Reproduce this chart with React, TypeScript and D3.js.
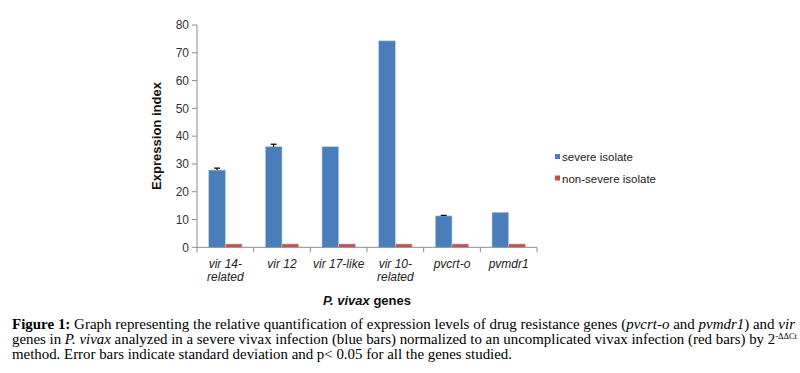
import React from "react";
import * as d3 from "d3";

const categories: string[][] = [
  ["vir 14-", "related"],
  ["vir 12"],
  ["vir 17-like"],
  ["vir 10-", "related"],
  ["pvcrt-o"],
  ["pvmdr1"],
];
const severe = [27.8, 36.2, 36.2, 74.3, 11.3, 12.6];
const severeErr = [0.7, 0.9, 0, 0, 0.2, 0];
const nonSevere = [1.2, 1.2, 1.2, 1.2, 1.2, 1.2];
const yTicks = [0, 10, 20, 30, 40, 50, 60, 70, 80];
const seriesNames = ["severe isolate", "non-severe isolate"];
const colors = ["#4A7EBB", "#C0504D"];

export default function App() {
  const W = 800, H = 373;
  const x0 = 197, x1 = 537;
  const y = d3.scaleLinear().domain([0, 80]).range([247.3, 25]);
  const xb = d3.scaleBand<number>().domain(d3.range(categories.length)).range([x0, x1]);
  const inner = d3.scaleBand<number>().domain([0, 1]).range([0, xb.bandwidth()]).paddingOuter(0.7).paddingInner(0);
  const sans = "Liberation Sans";
  const serif = "Liberation Serif";
  return (
    <svg width={W} height={H} style={{ position: "absolute", left: 0, top: 0, background: "#fff" }}>
      <line x1={x0} x2={x0} y1={y(80)} y2={y(0)} stroke="#8c8c8c" strokeWidth={1} />
      {yTicks.map((t) => (
        <g key={t}>
          <line x1={x0 - 5} x2={x0} y1={y(t)} y2={y(t)} stroke="#8c8c8c" />
          <text x={189} y={y(t)} dy="0.35em" textAnchor="end" style={{ fontFamily: sans }} fontSize={12} fill="#333">
            {t}
          </text>
        </g>
      ))}
      <text
        transform={`translate(157,136) rotate(-90)`}
        textAnchor="middle"
        dy="0.35em"
        style={{ fontFamily: sans }}
        fontSize={12.5}
        fontWeight="bold"
        fill="#111"
        textLength={108}
        lengthAdjust="spacingAndGlyphs"
      >
        Expression index
      </text>
      {categories.map((c, i) => {
        const bx = xb(i)!;
        const cx = bx + xb.bandwidth() / 2;
        const sx = bx + inner(0)!;
        const rx = bx + inner(1)!;
        const bw = inner.bandwidth();
        return (
          <g key={i}>
            <rect x={sx} y={y(severe[i])} width={bw} height={y(0) - y(severe[i])} fill={colors[0]} stroke="#b9cde5" strokeWidth={0.6} />
            <rect x={rx} y={y(nonSevere[i])} width={bw} height={y(0) - y(nonSevere[i])} fill={colors[1]} stroke="#e6b9b8" strokeWidth={0.6} />
            {severeErr[i] > 0 && (
              <g stroke="#000" strokeWidth={1.2}>
                <line x1={sx + bw / 2} x2={sx + bw / 2} y1={y(severe[i])} y2={y(severe[i] + severeErr[i])} />
                <line x1={sx + bw / 2 - 3} x2={sx + bw / 2 + 3} y1={y(severe[i] + severeErr[i])} y2={y(severe[i] + severeErr[i])} />
              </g>
            )}
            {c.map((line, j) => (
              <text key={j} x={cx} y={268 + j * 13} textAnchor="middle" style={{ fontFamily: sans }} fontSize={12} fontStyle="italic" fill="#222">
                {line}
              </text>
            ))}
          </g>
        );
      })}
      <line x1={x0} x2={x1} y1={y(0)} y2={y(0)} stroke="#8c8c8c" />
      {d3.range(categories.length + 1).map((k) => {
        const tx = x0 + k * xb.bandwidth();
        return <line key={k} x1={tx} x2={tx} y1={y(0)} y2={y(0) + 5} stroke="#8c8c8c" />;
      })}
      <text x={(x0 + x1) / 2} y={305} textAnchor="middle" style={{ fontFamily: sans }} fontSize={13} fontWeight="bold" fill="#111">
        <tspan fontStyle="italic">P. vivax</tspan> genes
      </text>
      {seriesNames.map((n, i) => (
        <g key={n}>
          <rect x={555} y={154 + i * 21.5} width={5} height={5} fill={colors[i]} />
          <text x={562} y={161 + i * 21.5} style={{ fontFamily: sans }} fontSize={11.5} fill="#222">
            {n}
          </text>
        </g>
      ))}
      <g style={{ fontFamily: serif }} fontSize={14} fill="#000">
        <text x={12} y={329} textLength={783} lengthAdjust="spacingAndGlyphs">
          <tspan fontWeight="bold">Figure 1:</tspan> Graph representing the relative quantification of expression levels of drug resistance genes (
          <tspan fontStyle="italic">pvcrt-o</tspan> and <tspan fontStyle="italic">pvmdr1</tspan>) and <tspan fontStyle="italic">vir</tspan>
        </text>
        <text x={12} y={344} textLength={785} lengthAdjust="spacingAndGlyphs">
          genes in <tspan fontStyle="italic">P. vivax</tspan> analyzed in a severe vivax infection (blue bars) normalized to an uncomplicated vivax infection (red bars) by 2
          <tspan fontSize={8} dy={-5}>-ΔΔCt</tspan>
        </text>
        <text x={12} y={359} textLength={500} lengthAdjust="spacingAndGlyphs">
          method. Error bars indicate standard deviation and p&lt; 0.05 for all the genes studied.
        </text>
      </g>
    </svg>
  );
}
